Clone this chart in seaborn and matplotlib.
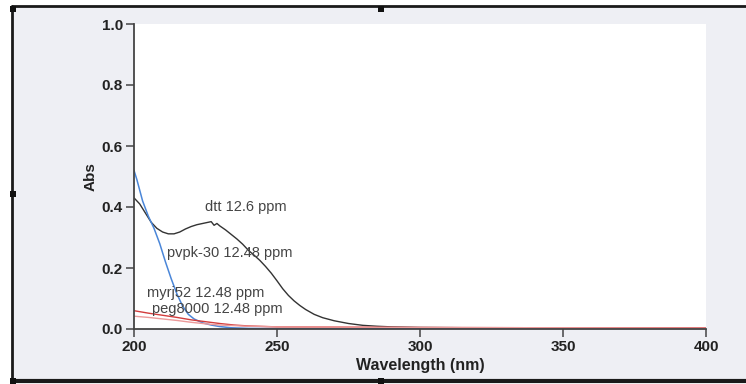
import matplotlib
matplotlib.use("Agg")
import matplotlib.pyplot as plt
import seaborn as sns
import pandas as pd
from matplotlib.patches import Rectangle
from matplotlib.lines import Line2D

# UV-Vis absorbance spectra
dtt_wl = [200, 202, 204, 206, 208, 210, 212, 214, 216, 218, 220, 222, 224, 226, 227, 228,
          229, 230, 232, 234, 236, 238, 240, 242, 244, 246, 248, 250, 252, 254, 256, 258,
          260, 263, 266, 270, 275, 280, 285, 290, 300, 320, 340, 360, 380, 400]
dtt_abs = [0.430, 0.410, 0.380, 0.350, 0.330, 0.318, 0.312, 0.312, 0.318, 0.328, 0.336, 0.342,
           0.346, 0.350, 0.352, 0.340, 0.346, 0.338, 0.325, 0.310, 0.295, 0.278, 0.258, 0.242,
           0.225, 0.205, 0.183, 0.158, 0.132, 0.110, 0.092, 0.077, 0.064, 0.048, 0.037, 0.027,
           0.018, 0.012, 0.009, 0.007, 0.005, 0.004, 0.003, 0.003, 0.002, 0.002]

pvp_wl = [200, 201, 203, 205, 207, 209, 211, 213, 215, 217, 219, 221, 224, 227, 230, 234,
          240, 260, 300, 350, 400]
pvp_abs = [0.520, 0.490, 0.420, 0.370, 0.330, 0.280, 0.220, 0.165, 0.115, 0.075, 0.048,
           0.033, 0.020, 0.013, 0.008, 0.004, 0.002, 0.001, 0.001, 0.001, 0.001]

myrj_wl = [200, 205, 210, 215, 220, 225, 230, 235, 240, 250, 275, 300, 350, 400]
myrj_abs = [0.060, 0.052, 0.045, 0.038, 0.030, 0.024, 0.018, 0.013, 0.010, 0.007, 0.006,
            0.005, 0.004, 0.004]

peg_wl = [200, 205, 210, 215, 220, 225, 230, 240, 250, 300, 400]
peg_abs = [0.042, 0.038, 0.033, 0.028, 0.022, 0.017, 0.013, 0.009, 0.007, 0.005, 0.003]

labels = ["dtt 12.6 ppm", "pvpk-30 12.48 ppm", "myrj52 12.48 ppm", "peg8000 12.48 ppm"]
label_pos = [(224.8, 0.400), (211.5, 0.249), (204.5, 0.118), (206.3, 0.066)]

x_ticks = [200, 250, 300, 350, 400]
y_ticks = [0.0, 0.2, 0.4, 0.6, 0.8, 1.0]

sns.set_theme(style="ticks")
plt.rcParams["font.family"] = ["Liberation Sans", "DejaVu Sans"]

W, H = 746, 384
fig = plt.figure(figsize=(W / 100, H / 100), dpi=100, facecolor="white")

# panel background and frame
fig.add_artist(Rectangle((12 / W, 1 - 381 / H), (W - 12) / W, (381 - 6) / H,
                         transform=fig.transFigure, facecolor="#eeeff4",
                         edgecolor="none", zorder=-10))
for xs, ys, lw in [([12, 12], [6, 381], 2.0), ([12, W], [6, 6], 2.0), ([12, W], [381, 381], 3.0)]:
    fig.add_artist(Line2D([x / W for x in xs], [1 - y / H for y in ys],
                          transform=fig.transFigure, color="#1a1a1a", lw=lw, zorder=5))
for hx, hy in [(13, 9), (381, 9), (13, 194), (13, 381), (381, 381)]:
    fig.add_artist(Rectangle(((hx - 3) / W, 1 - (hy + 3) / H), 6 / W, 6 / H,
                             transform=fig.transFigure, facecolor="#111111",
                             edgecolor="none", zorder=6))

ax = fig.add_axes([134 / W, 1 - 329 / H, (706 - 134) / W, (329 - 24) / H])
ax.set_zorder(1)
ax.set_facecolor("white")

series = [
    (dtt_wl, dtt_abs, "#333333", 1.0),
    (pvp_wl, pvp_abs, "#4a86d8", 1.1),
    (myrj_wl, myrj_abs, "#d23c3c", 1.0),
    (peg_wl, peg_abs, "#ec9a9a", 1.0),
]
for wl, ab, col, lw in series:
    df = pd.DataFrame({"Wavelength": wl, "Abs": ab})
    sns.lineplot(data=df, x="Wavelength", y="Abs", ax=ax, color=col, lw=lw)

for txt, (tx, ty) in zip(labels, label_pos):
    ax.text(tx, ty, txt, fontsize=10.5, color="#444444", va="center", ha="left")

ax.set_xlim(200, 400)
ax.set_ylim(0, 1.0)
ax.set_xticks(x_ticks)
ax.set_yticks(y_ticks)
ax.set_yticklabels([f"{v:.1f}" for v in y_ticks])
ax.set_xlabel("Wavelength (nm)", fontsize=11.5, fontweight="bold", color="#222222", labelpad=3)
ax.set_ylabel("Abs", fontsize=11, fontweight="bold", color="#222222", labelpad=3)
ax.tick_params(axis="both", direction="out", length=6, width=1.1, color="#444444",
               labelsize=11, labelcolor="#222222", pad=2)
for lab in ax.get_xticklabels() + ax.get_yticklabels():
    lab.set_fontweight("bold")
for side in ["top", "right"]:
    ax.spines[side].set_visible(False)
for side in ["left", "bottom"]:
    ax.spines[side].set_color("#444444")
    ax.spines[side].set_linewidth(1.3)

fig.savefig("out.png", dpi=100, facecolor=fig.get_facecolor())
